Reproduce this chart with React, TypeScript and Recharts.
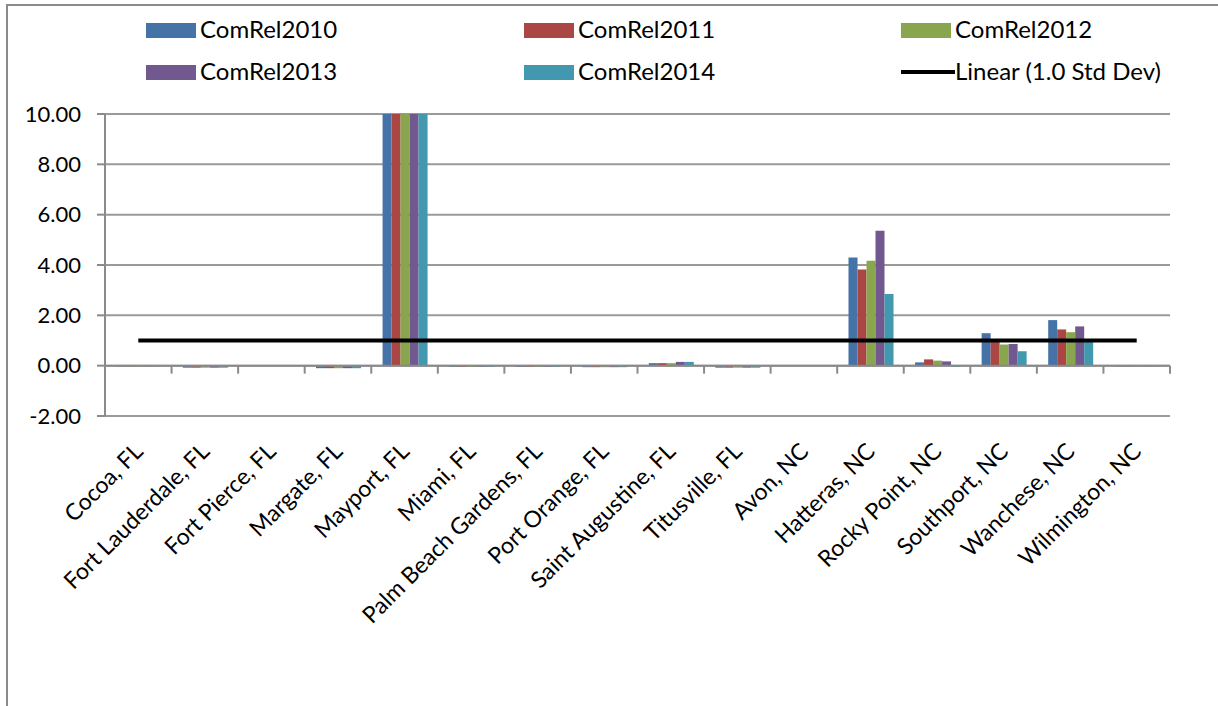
import React from 'react';
import { ComposedChart, Bar, Line, XAxis, YAxis, CartesianGrid, Legend, ReferenceLine } from 'recharts';

const categories = [
  'Cocoa, FL', 'Fort Lauderdale, FL', 'Fort Pierce, FL', 'Margate, FL', 'Mayport, FL', 'Miami, FL',
  'Palm Beach Gardens, FL', 'Port Orange, FL', 'Saint Augustine, FL', 'Titusville, FL', 'Avon, NC',
  'Hatteras, NC', 'Rocky Point, NC', 'Southport, NC', 'Wanchese, NC', 'Wilmington, NC',
];
const comRel2010 = [-0.03, -0.08, 0, -0.1, 10, -0.05, -0.05, -0.06, 0.1, -0.08, 0, 4.3, 0.13, 1.29, 1.81, -0.03];
const comRel2011 = [-0.03, -0.08, 0, -0.1, 10, -0.05, -0.05, -0.06, 0.1, -0.08, 0, 3.82, 0.25, 1.02, 1.44, -0.03];
const comRel2012 = [-0.03, -0.08, 0, -0.1, 10, -0.05, -0.05, -0.06, 0.1, -0.08, 0, 4.17, 0.2, 0.84, 1.33, -0.03];
const comRel2013 = [-0.03, -0.08, 0, -0.1, 10, -0.05, -0.05, -0.06, 0.15, -0.08, 0, 5.36, 0.17, 0.86, 1.56, -0.03];
const comRel2014 = [-0.03, -0.08, 0, -0.1, 10, -0.05, -0.05, -0.06, 0.15, -0.08, 0, 2.85, -0.05, 0.57, 0.96, -0.03];
const stdDev = [1, 1, 1, 1, 1, 1, 1, 1, 1, 1, 1, 1, 1, 1, 1, 1];
const yTicks = [-2, 0, 2, 4, 6, 8, 10];

const seriesNames = ['ComRel2010', 'ComRel2011', 'ComRel2012', 'ComRel2013', 'ComRel2014'];
const seriesColors = ['#4572A7', '#AA4643', '#89A54E', '#71588F', '#4198AF'];
const lineName = 'Linear (1.0 Std Dev)';

const data = categories.map((c, i) => ({
  name: c,
  ComRel2010: comRel2010[i],
  ComRel2011: comRel2011[i],
  ComRel2012: comRel2012[i],
  ComRel2013: comRel2013[i],
  ComRel2014: comRel2014[i],
  std: stdDev[i],
}));

const W = 1218;
const H = 706;
const PLOT_LEFT = 105;
const PLOT_RIGHT = 1170;
const PLOT_TOP = 114;
const PLOT_BOTTOM = 416;
const Y_MIN = -2;
const Y_MAX = 10;
const FONT = 'Lato, "Open Sans", sans-serif';
const AXIS_GRAY = '#8a8a8a';

const zeroY = PLOT_BOTTOM - ((0 - Y_MIN) / (Y_MAX - Y_MIN)) * (PLOT_BOTTOM - PLOT_TOP);
const bandW = (PLOT_RIGHT - PLOT_LEFT) / categories.length;

const CategoryTick = (props: any) => {
  const { x, payload, index } = props;
  const left = x - bandW / 2;
  const right = x + bandW / 2;
  const ax = x + 6;
  const ay = PLOT_BOTTOM + 37;
  return (
    <g>
      <line x1={left} x2={left} y1={zeroY} y2={zeroY + 8} stroke={AXIS_GRAY} strokeWidth={2} />
      {index === categories.length - 1 && (
        <line x1={right} x2={right} y1={zeroY} y2={zeroY + 8} stroke={AXIS_GRAY} strokeWidth={2} />
      )}
      <text
        x={ax}
        y={ay}
        transform={`rotate(-45, ${ax}, ${ay})`}
        textAnchor="end"
        fontSize={23}
        fontFamily={FONT}
        fill="#000"
      >
        {payload.value}
      </text>
    </g>
  );
};

const legendCols = [146, 524, 901];
const legendRows = [22, 64];

const LegendContent = (props: any) => {
  const { payload } = props;
  return (
    <div style={{ position: 'relative', width: W, height: 100 }}>
      {(payload || []).map((entry: any, i: number) => {
        const col = i % 3;
        const row = Math.floor(i / 3);
        const left = legendCols[col];
        const top = legendRows[row];
        const isLine = entry.type === 'line';
        return (
          <div key={i} style={{ position: 'absolute', left, top, height: 16, display: 'flex', alignItems: 'center' }}>
            {isLine ? (
              <div style={{ width: 54, height: 4, background: '#000' }} />
            ) : (
              <div style={{ width: 50, height: 15, background: entry.color }} />
            )}
            <span
              style={{
                position: 'absolute',
                left: 54,
                top: -7,
                fontFamily: FONT,
                fontSize: 24,
                lineHeight: '28px',
                whiteSpace: 'nowrap',
                color: '#000',
              }}
            >
              {entry.value}
            </span>
          </div>
        );
      })}
    </div>
  );
};

export default function App() {
  return (
    <div style={{ position: 'absolute', left: 0, top: 0, width: W, height: H, overflow: 'hidden', background: '#fff' }}>
      <div
        style={{
          position: 'absolute',
          left: 6,
          top: 4,
          width: W,
          height: H,
          borderLeft: '2px solid #8a8a8a',
          borderTop: '2px solid #8a8a8a',
        }}
      />
      <div style={{ position: 'absolute', left: 0, top: 0 }}>
        <ComposedChart
          width={W}
          height={H}
          data={data}
          margin={{ top: PLOT_TOP, right: W - PLOT_RIGHT, bottom: 0, left: 0 }}
          barCategoryGap="17%"
          barGap={0}
        >
          <CartesianGrid vertical={false} stroke="#9a9a9a" strokeWidth={2} />
          <XAxis
            dataKey="name"
            interval={0}
            axisLine={false}
            tickLine={false}
            tickSize={0}
            tick={<CategoryTick />}
            height={H - PLOT_BOTTOM}
          />
          <YAxis
            domain={[Y_MIN, Y_MAX]}
            ticks={yTicks}
            allowDataOverflow
            width={PLOT_LEFT}
            tickFormatter={(v: number) => v.toFixed(2)}
            axisLine={{ stroke: AXIS_GRAY, strokeWidth: 2 }}
            tickLine={{ stroke: AXIS_GRAY, strokeWidth: 2 }}
            tickSize={8}
            tickMargin={16}
            tick={{ fontSize: 22, fontFamily: FONT, fill: '#000' }}
          />
          <ReferenceLine y={0} stroke={AXIS_GRAY} strokeWidth={2} />
          <Legend
            layout="horizontal"
            verticalAlign="middle"
            align="center"
            wrapperStyle={{ position: 'absolute', left: 0, top: 0, width: W, height: 100 }}
            content={<LegendContent />}
          />
          {seriesNames.map((s, i) => (
            <Bar key={s} dataKey={s} name={s} fill={seriesColors[i]} isAnimationActive={false} />
          ))}
          <Line
            dataKey="std"
            name={lineName}
            stroke="#000"
            strokeWidth={4}
            dot={false}
            activeDot={false}
            legendType="line"
            isAnimationActive={false}
          />
        </ComposedChart>
      </div>
    </div>
  );
}
